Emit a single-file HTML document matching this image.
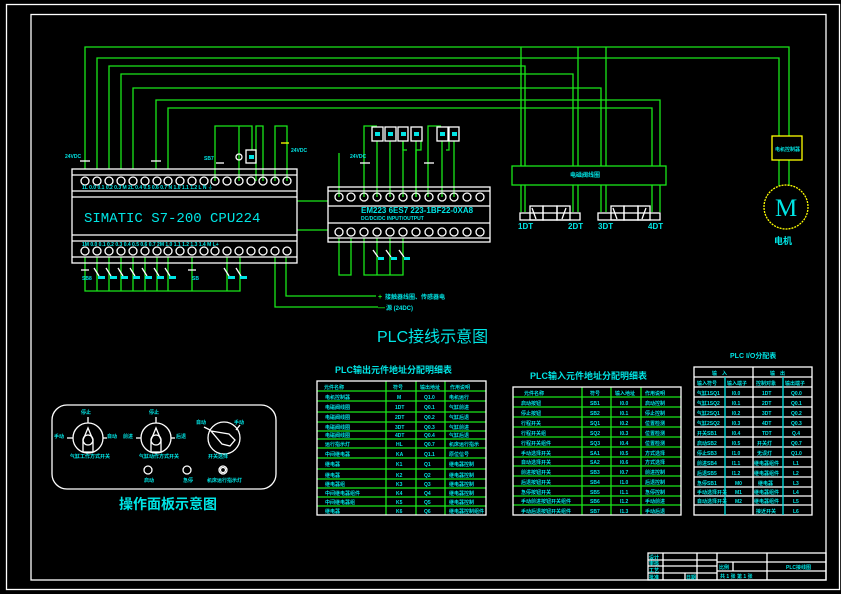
<!DOCTYPE html>
<html><head><meta charset="utf-8"><style>
html,body{margin:0;padding:0;background:#000;}
svg{display:block;}
text{font-family:"Liberation Sans","Noto Sans CJK SC",sans-serif;fill:#00e5e5;}
.w{stroke:#fff;fill:none;stroke-width:1.3}
.g{stroke:#19e619;fill:none;stroke-width:1.3}
.y{stroke:#ffff00;fill:none;stroke-width:1.3}
.t{font-size:5px;font-weight:bold}
.tb{font-size:6px;font-weight:bold}
</style></head><body>
<svg width="841" height="594" viewBox="0 0 841 594" xmlns="http://www.w3.org/2000/svg">
<rect x="0" y="0" width="841" height="594" fill="#000"/>
<!-- frames -->
<rect x="6.5" y="4.5" width="833" height="585" class="w"/>
<rect x="31" y="14.5" width="795" height="565.5" class="w"/>

<!-- top wiring -->
<g class="g">
<polyline points="85,169 85,47 789,47 789,136"/>
<polyline points="97,169 97,58 779,58 779,136"/>
<polyline points="109,169 109,66 525,66 525,166"/>
<polyline points="121,169 121,74 573,74 573,166"/>
<polyline points="133,169 133,88 601,88 601,166"/>
<polyline points="156,169 156,100 660,100 660,166"/>
<polyline points="168,169 168,108 652,108 652,166"/>
<line x1="521" y1="47" x2="521" y2="166"/>
<line x1="578" y1="47" x2="578" y2="166"/>
<line x1="606" y1="47" x2="606" y2="166"/>
<rect x="512" y="166" width="154" height="19"/>
<line x1="521" y1="185" x2="521" y2="212"/><line x1="525" y1="185" x2="525" y2="212"/>
<line x1="573" y1="185" x2="573" y2="212"/><line x1="578" y1="185" x2="578" y2="212"/>
<line x1="601" y1="185" x2="601" y2="212"/><line x1="606" y1="185" x2="606" y2="212"/>
<line x1="652" y1="185" x2="652" y2="212"/><line x1="660" y1="185" x2="660" y2="212"/>
<line x1="779" y1="160" x2="779" y2="186"/><line x1="789" y1="160" x2="789" y2="186"/>
<!-- CPU upper aux wiring -->
<polyline points="215,181 215,126 252,126 252,150"/>
<line x1="239" y1="126" x2="239" y2="181"/>
<polyline points="256,181 256,126 263,126 263,181"/>
<polyline points="275,181 275,126 287,126 287,181"/>
<!-- EM upper wiring -->
<polyline points="364,197 364,126 377,126"/>
<polyline points="416,197 416,150 421,150 421,141"/>
<polyline points="403,141 403,150 407,150"/>
<polyline points="428,197 428,126 441,126"/>
<polyline points="449,141 449,150 446,150"/>
<line x1="377" y1="141" x2="377" y2="197"/><line x1="390" y1="141" x2="390" y2="197"/>
<line x1="403" y1="141" x2="403" y2="197"/><line x1="416" y1="141" x2="416" y2="197"/>
<line x1="442" y1="141" x2="442" y2="197"/><line x1="454" y1="141" x2="454" y2="197"/>
<line x1="339" y1="153" x2="339" y2="197"/>
<!-- CPU-EM links -->
<line x1="297" y1="201" x2="328" y2="201"/><line x1="297" y1="230" x2="328" y2="230"/>
<!-- bottom CPU wiring -->
<polyline points="85,257 85,291 240,291 240,257"/>
<line x1="97" y1="257" x2="97" y2="291"/><line x1="109" y1="257" x2="109" y2="291"/>
<line x1="121" y1="257" x2="121" y2="291"/><line x1="133" y1="257" x2="133" y2="291"/>
<line x1="145" y1="257" x2="145" y2="291"/><line x1="157" y1="257" x2="157" y2="291"/>
<line x1="168" y1="257" x2="168" y2="291"/><line x1="192" y1="257" x2="192" y2="291"/>
<line x1="227" y1="257" x2="227" y2="291"/>
<polyline points="275,257 275,307 378,307"/>
<polyline points="286,257 286,296 376,296"/>
<!-- EM bottom wiring -->
<polyline points="339,238 339,275 351,275 351,238"/>
<polyline points="364,238 364,275 403,275 403,238"/>
<line x1="377" y1="238" x2="377" y2="275"/><line x1="390" y1="238" x2="390" y2="275"/>
</g>

<!-- CPU box -->
<g class="w">
<rect x="72" y="169" width="225" height="94"/>
<line x1="72" y1="175" x2="297" y2="175"/><line x1="72" y1="191" x2="297" y2="191"/>
<line x1="72" y1="197" x2="297" y2="197"/><line x1="72" y1="235" x2="297" y2="235"/>
<line x1="72" y1="241" x2="297" y2="241"/><line x1="72" y1="257" x2="297" y2="257"/>
</g>
<g class="w" stroke-width="1">
<circle cx="85" cy="181" r="4"/><circle cx="97" cy="181" r="4"/><circle cx="109" cy="181" r="4"/><circle cx="121" cy="181" r="4"/><circle cx="133" cy="181" r="4"/><circle cx="145" cy="181" r="4"/><circle cx="157" cy="181" r="4"/><circle cx="168" cy="181" r="4"/><circle cx="180" cy="181" r="4"/><circle cx="192" cy="181" r="4"/><circle cx="204" cy="181" r="4"/><circle cx="215" cy="181" r="4"/><circle cx="227" cy="181" r="4"/><circle cx="239" cy="181" r="4"/><circle cx="251" cy="181" r="4"/><circle cx="263" cy="181" r="4"/><circle cx="275" cy="181" r="4"/><circle cx="287" cy="181" r="4"/>
<circle cx="85" cy="251" r="4"/><circle cx="97" cy="251" r="4"/><circle cx="109" cy="251" r="4"/><circle cx="121" cy="251" r="4"/><circle cx="133" cy="251" r="4"/><circle cx="145" cy="251" r="4"/><circle cx="157" cy="251" r="4"/><circle cx="168" cy="251" r="4"/><circle cx="180" cy="251" r="4"/><circle cx="192" cy="251" r="4"/><circle cx="204" cy="251" r="4"/><circle cx="215" cy="251" r="4"/><circle cx="227" cy="251" r="4"/><circle cx="239" cy="251" r="4"/><circle cx="251" cy="251" r="4"/><circle cx="263" cy="251" r="4"/><circle cx="275" cy="251" r="4"/><circle cx="287" cy="251" r="4"/>
</g>
<text x="84" y="222" style="font-family:'Liberation Mono',monospace;font-size:14px">SIMATIC S7-200 CPU224</text>
<text x="82" y="189" class="t">1L  0.0 0.1 0.2 0.3 M  2L 0.4 0.5 0.6 0.7 N  1.0 1.1 1.2 L  N  ⏚</text>
<text x="82" y="246" class="t">1M 0.0 0.1 0.2 0.3 0.4 0.5 0.6 0.7 2M 1.0 1.1 1.2 1.3 1.4 M  L+</text>

<!-- EM box -->
<g class="w">
<rect x="328" y="187" width="162" height="55"/>
<line x1="328" y1="191" x2="490" y2="191"/><line x1="328" y1="206" x2="490" y2="206"/>
<line x1="328" y1="223" x2="490" y2="223"/><line x1="328" y1="238" x2="490" y2="238"/>
</g>
<g class="w" stroke-width="1">
<circle cx="339" cy="197" r="4"/><circle cx="351" cy="197" r="4"/><circle cx="364" cy="197" r="4"/><circle cx="377" cy="197" r="4"/><circle cx="390" cy="197" r="4"/><circle cx="403" cy="197" r="4"/><circle cx="416" cy="197" r="4"/><circle cx="429" cy="197" r="4"/><circle cx="442" cy="197" r="4"/><circle cx="454" cy="197" r="4"/><circle cx="467" cy="197" r="4"/><circle cx="480" cy="197" r="4"/>
<circle cx="339" cy="232" r="4"/><circle cx="351" cy="232" r="4"/><circle cx="364" cy="232" r="4"/><circle cx="377" cy="232" r="4"/><circle cx="390" cy="232" r="4"/><circle cx="403" cy="232" r="4"/><circle cx="416" cy="232" r="4"/><circle cx="429" cy="232" r="4"/><circle cx="442" cy="232" r="4"/><circle cx="454" cy="232" r="4"/><circle cx="467" cy="232" r="4"/><circle cx="480" cy="232" r="4"/>
</g>
<text x="361" y="213" style="font-size:8px;font-weight:bold">EM223 6ES7 223-1BF22-0XA8</text>
<text x="361" y="220" class="t">DC/DC/DC INPUT/OUTPUT</text>

<!-- relay boxes -->
<g class="w"><rect x="372" y="127" width="11" height="14"/><rect x="385" y="127" width="11" height="14"/><rect x="398" y="127" width="10" height="14"/><rect x="411" y="127" width="11" height="14"/><rect x="437" y="127" width="11" height="14"/><rect x="449" y="127" width="10" height="14"/>
<rect x="246" y="150" width="10" height="13"/><circle cx="239" cy="157" r="3"/></g>
<g fill="#00e5e5"><rect x="375" y="132" width="5" height="4"/><rect x="388" y="132" width="5" height="4"/><rect x="401" y="132" width="5" height="4"/><rect x="414" y="132" width="5" height="4"/><rect x="440" y="132" width="5" height="4"/><rect x="452" y="132" width="5" height="4"/><rect x="249" y="155" width="5" height="4"/></g>
<text x="65" y="158" class="t">24VDC</text><text x="291" y="152" class="t">24VDC</text><text x="350" y="158" class="t">24VDC</text><text x="204" y="160" class="t">SB7</text>
<g class="w" stroke-width="1"><line x1="80" y1="161" x2="90" y2="161"/><line x1="151" y1="161" x2="161" y2="161"/><line x1="360" y1="163" x2="370" y2="163"/><line x1="424" y1="163" x2="434" y2="163"/><line x1="216" y1="163" x2="224" y2="163"/></g>
<line x1="281" y1="143" x2="289" y2="143" class="y"/>

<!-- bottom switches -->
<g class="w" stroke-width="1">
<line x1="94" y1="268" x2="99" y2="276"/><line x1="106" y1="268" x2="111" y2="276"/><line x1="118" y1="268" x2="123" y2="276"/><line x1="130" y1="268" x2="135" y2="276"/><line x1="142" y1="268" x2="147" y2="276"/><line x1="154" y1="268" x2="159" y2="276"/><line x1="165" y1="268" x2="170" y2="276"/><line x1="224" y1="268" x2="229" y2="276"/><line x1="236" y1="268" x2="241" y2="276"/>
<line x1="81" y1="270" x2="89" y2="270"/><line x1="188" y1="270" x2="196" y2="270"/>
<line x1="373" y1="250" x2="378" y2="257"/><line x1="386" y1="250" x2="391" y2="257"/><line x1="399" y1="250" x2="404" y2="257"/>
</g>
<g fill="#00e5e5"><rect x="98" y="276" width="7" height="3"/><rect x="110" y="276" width="7" height="3"/><rect x="121" y="276" width="7" height="3"/><rect x="133" y="276" width="7" height="3"/><rect x="145" y="276" width="7" height="3"/><rect x="157" y="276" width="7" height="3"/><rect x="169" y="276" width="7" height="3"/><rect x="228" y="276" width="7" height="3"/><rect x="240" y="276" width="7" height="3"/><rect x="378" y="257" width="6" height="3"/><rect x="391" y="257" width="6" height="3"/><rect x="404" y="257" width="6" height="3"/></g>
<text x="82" y="280" class="t">SB8</text><text x="192" y="280" class="t">SB</text>
<text x="378" y="299" style="font-size:7px;font-weight:bold;fill:#19e619">+</text><text x="385" y="299" style="font-size:6px;font-weight:bold">接触器线圈、传感器电</text>
<text x="378" y="310" style="font-size:7px;font-weight:bold;fill:#19e619">—</text><text x="386" y="310" style="font-size:6px;font-weight:bold">源 (24DC)</text>

<!-- valves -->
<text x="570" y="177" class="tb">电磁阀线圈</text>
<g class="w" stroke-width="1">
<rect x="520" y="213" width="60" height="7"/><rect x="530" y="206" width="13" height="14"/><rect x="543" y="206" width="14" height="14"/><rect x="557" y="206" width="13" height="14"/>
<line x1="532" y1="208" x2="536" y2="219"/><line x1="562" y1="219" x2="566" y2="208"/>
<rect x="598" y="213" width="62" height="7"/><rect x="611" y="206" width="13" height="14"/><rect x="624" y="206" width="14" height="14"/><rect x="638" y="206" width="12" height="14"/>
<line x1="613" y1="208" x2="617" y2="219"/><line x1="642" y1="219" x2="646" y2="208"/>
</g>
<text x="518" y="229" style="font-size:8px;font-weight:bold">1DT</text><text x="568" y="229" style="font-size:8px;font-weight:bold">2DT</text>
<text x="598" y="229" style="font-size:8px;font-weight:bold">3DT</text><text x="648" y="229" style="font-size:8px;font-weight:bold">4DT</text>
<!-- motor -->
<rect x="772" y="136" width="30" height="24" class="y"/>
<text x="775" y="151" class="t">电机控制器</text>
<circle cx="786" cy="207" r="22" class="y" stroke-dasharray="2 1"/>
<text x="775" y="216" style="font-family:'Liberation Serif',serif;font-size:25px">M</text>
<text x="774" y="244" style="font-size:9px;font-weight:bold">电机</text>

<text x="377" y="342" style="font-size:16px">PLC接线示意图</text>

<!-- panel -->
<rect x="52" y="405" width="224" height="84" rx="15" class="w"/>
<g class="w" stroke-width="1">
<circle cx="88" cy="438" r="15"/><path d="M83,452 L83,440 L88,428 L93,440 L93,452 Z"/><circle cx="88" cy="440" r="5"/><line x1="88" y1="423" x2="88" y2="417"/><line x1="67" y1="438" x2="73" y2="438"/><line x1="103" y1="438" x2="107" y2="438"/>
<circle cx="156" cy="438" r="15"/><path d="M151,452 L151,440 L156,428 L161,440 L161,452 Z"/><circle cx="156" cy="440" r="5"/><line x1="156" y1="423" x2="156" y2="417"/><line x1="136" y1="438" x2="141" y2="438"/><line x1="171" y1="438" x2="175" y2="438"/>
<circle cx="224" cy="438" r="16"/><path d="M211,431 L229,434 L235,440 L230,446 L222,444 Z"/><line x1="210" y1="430" x2="204" y2="427"/><line x1="236" y1="430" x2="240" y2="425"/>
<circle cx="148" cy="470" r="4"/><circle cx="187" cy="470" r="4"/><circle cx="223" cy="470" r="4"/><circle cx="223" cy="470" r="2.5"/>
</g>
<g class="t"><text x="81" y="414">停止</text><text x="54" y="438">手动</text><text x="107" y="438">自动</text><text x="149" y="414">停止</text><text x="123" y="438">前进</text><text x="176" y="438">后退</text><text x="196" y="424">自动</text><text x="234" y="424">手动</text>
<text x="70" y="458">气缸工作方式开关</text><text x="139" y="458">气缸动作方式开关</text><text x="208" y="458">开关选择</text>
<text x="144" y="482">启动</text><text x="183" y="482">急停</text><text x="207" y="482">机床运行指示灯</text></g>
<text x="119" y="509" style="font-size:14px;font-weight:bold">操作面板示意图</text>

<!-- tables titles -->
<text x="335" y="373" style="font-size:9px;font-weight:bold">PLC输出元件地址分配明细表</text>
<text x="530" y="379" style="font-size:9px;font-weight:bold">PLC输入元件地址分配明细表</text>
<text x="730" y="358" style="font-size:7px;font-weight:bold">PLC I/O分配表</text>

<!-- table 1 -->
<g class="g">
<line x1="317" y1="391" x2="486" y2="391"/><line x1="317" y1="401" x2="486" y2="401"/><line x1="317" y1="412" x2="486" y2="412"/><line x1="317" y1="422" x2="486" y2="422"/><line x1="317" y1="431" x2="486" y2="431"/><line x1="317" y1="439" x2="486" y2="439"/><line x1="317" y1="448" x2="486" y2="448"/><line x1="317" y1="458" x2="486" y2="458"/><line x1="317" y1="469" x2="486" y2="469"/><line x1="317" y1="479" x2="486" y2="479"/><line x1="317" y1="488" x2="486" y2="488"/><line x1="317" y1="497" x2="486" y2="497"/><line x1="317" y1="506" x2="486" y2="506"/>
<line x1="386" y1="381" x2="386" y2="515"/><line x1="416" y1="381" x2="416" y2="515"/><line x1="445" y1="381" x2="445" y2="515"/>
</g>
<rect x="317" y="381" width="169" height="134" class="w"/>
<g class="t">
<text x="324" y="389">元件名称</text><text x="393" y="389">符号</text><text x="420" y="389">输出地址</text><text x="450" y="389">作用说明</text>
<text x="325" y="399">电机控制器</text><text x="397" y="399">M</text><text x="424" y="399">Q1.0</text><text x="449" y="399">电机运行</text>
<text x="325" y="409">电磁阀线圈</text><text x="395" y="409">1DT</text><text x="424" y="409">Q0.1</text><text x="449" y="409">气缸前进</text>
<text x="325" y="419">电磁阀线圈</text><text x="395" y="419">2DT</text><text x="424" y="419">Q0.2</text><text x="449" y="419">气缸后退</text>
<text x="325" y="429">电磁阀线圈</text><text x="395" y="429">3DT</text><text x="424" y="429">Q0.3</text><text x="449" y="429">气缸前进</text>
<text x="325" y="437">电磁阀线圈</text><text x="395" y="437">4DT</text><text x="424" y="437">Q0.4</text><text x="449" y="437">气缸后退</text>
<text x="325" y="446">运行指示灯</text><text x="396" y="446">HL</text><text x="424" y="446">Q0.7</text><text x="449" y="446">机床运行指示</text>
<text x="325" y="456">中间继电器</text><text x="396" y="456">KA</text><text x="424" y="456">Q1.1</text><text x="449" y="456">原位信号</text>
<text x="325" y="466">继电器</text><text x="396" y="466">K1</text><text x="424" y="466">Q1</text><text x="449" y="466">继电器控制</text>
<text x="325" y="477">继电器</text><text x="396" y="477">K2</text><text x="424" y="477">Q2</text><text x="449" y="477">继电器控制</text>
<text x="325" y="486">继电器组</text><text x="396" y="486">K3</text><text x="424" y="486">Q3</text><text x="449" y="486">继电器控制</text>
<text x="325" y="495">中间继电器组件</text><text x="396" y="495">K4</text><text x="424" y="495">Q4</text><text x="449" y="495">继电器控制</text>
<text x="325" y="504">中间继电器组</text><text x="396" y="504">K5</text><text x="424" y="504">Q5</text><text x="449" y="504">继电器控制</text>
<text x="325" y="513">继电器</text><text x="396" y="513">K6</text><text x="424" y="513">Q6</text><text x="449" y="513">继电器控制组件</text>
</g>

<!-- table 2 -->
<g class="g">
<line x1="513" y1="397" x2="681" y2="397"/><line x1="513" y1="407" x2="681" y2="407"/><line x1="513" y1="417" x2="681" y2="417"/><line x1="513" y1="427" x2="681" y2="427"/><line x1="513" y1="437" x2="681" y2="437"/><line x1="513" y1="447" x2="681" y2="447"/><line x1="513" y1="457" x2="681" y2="457"/><line x1="513" y1="466" x2="681" y2="466"/><line x1="513" y1="476" x2="681" y2="476"/><line x1="513" y1="486" x2="681" y2="486"/><line x1="513" y1="496" x2="681" y2="496"/><line x1="513" y1="505" x2="681" y2="505"/>
<line x1="582" y1="387" x2="582" y2="515"/><line x1="611" y1="387" x2="611" y2="515"/><line x1="641" y1="387" x2="641" y2="515"/>
</g>
<rect x="513" y="387" width="168" height="128" class="w"/>
<g class="t">
<text x="524" y="395">元件名称</text><text x="590" y="395">符号</text><text x="615" y="395">输入地址</text><text x="645" y="395">作用说明</text>
<text x="521" y="405">启动按钮</text><text x="590" y="405">SB1</text><text x="620" y="405">I0.0</text><text x="645" y="405">启动控制</text>
<text x="521" y="415">停止按钮</text><text x="590" y="415">SB2</text><text x="620" y="415">I0.1</text><text x="645" y="415">停止控制</text>
<text x="521" y="425">行程开关</text><text x="590" y="425">SQ1</text><text x="620" y="425">I0.2</text><text x="645" y="425">位置检测</text>
<text x="521" y="435">行程开关组</text><text x="590" y="435">SQ2</text><text x="620" y="435">I0.3</text><text x="645" y="435">位置检测</text>
<text x="521" y="445">行程开关组件</text><text x="590" y="445">SQ3</text><text x="620" y="445">I0.4</text><text x="645" y="445">位置检测</text>
<text x="521" y="455">手动选择开关</text><text x="590" y="455">SA1</text><text x="620" y="455">I0.5</text><text x="645" y="455">方式选择</text>
<text x="521" y="464">自动选择开关</text><text x="590" y="464">SA2</text><text x="620" y="464">I0.6</text><text x="645" y="464">方式选择</text>
<text x="521" y="474">前进按钮开关</text><text x="590" y="474">SB3</text><text x="620" y="474">I0.7</text><text x="645" y="474">前进控制</text>
<text x="521" y="484">后退按钮开关</text><text x="590" y="484">SB4</text><text x="620" y="484">I1.0</text><text x="645" y="484">后退控制</text>
<text x="521" y="494">急停按钮开关</text><text x="590" y="494">SB5</text><text x="620" y="494">I1.1</text><text x="645" y="494">急停控制</text>
<text x="521" y="503">手动前进按钮开关组件</text><text x="590" y="503">SB6</text><text x="620" y="503">I1.2</text><text x="645" y="503">手动前进</text>
<text x="521" y="513">手动后退按钮开关组件</text><text x="590" y="513">SB7</text><text x="620" y="513">I1.3</text><text x="645" y="513">手动后退</text>
</g>

<!-- table 3 -->
<g class="w" stroke-width="1">
<rect x="694" y="367" width="118" height="148" stroke-width="1.3"/>
<line x1="694" y1="377" x2="812" y2="377"/><line x1="694" y1="387" x2="812" y2="387"/><line x1="694" y1="397" x2="812" y2="397"/><line x1="694" y1="407" x2="812" y2="407"/><line x1="694" y1="417" x2="812" y2="417"/><line x1="694" y1="427" x2="812" y2="427"/><line x1="694" y1="437" x2="812" y2="437"/><line x1="694" y1="447" x2="812" y2="447"/><line x1="694" y1="457" x2="812" y2="457"/><line x1="694" y1="467" x2="812" y2="467"/><line x1="694" y1="477" x2="812" y2="477"/><line x1="694" y1="487" x2="812" y2="487"/><line x1="694" y1="496" x2="812" y2="496"/><line x1="694" y1="505" x2="812" y2="505"/>
<line x1="753" y1="367" x2="753" y2="515"/>
</g>
<g class="g" stroke="#00e5e5"><line x1="725" y1="377" x2="725" y2="515" stroke="#00e5e5"/><line x1="783" y1="377" x2="783" y2="515" stroke="#00e5e5"/></g>
<g class="t">
<text x="712" y="375">输　入</text><text x="770" y="375">输　出</text>
<text x="697" y="385">输入符号</text><text x="727" y="385">输入端子</text><text x="756" y="385">控制对象</text><text x="785" y="385">输出端子</text>
<text x="697" y="395">气缸1SQ1</text><text x="732" y="395">I0.0</text><text x="762" y="395">1DT</text><text x="791" y="395">Q0.0</text>
<text x="697" y="405">气缸1SQ2</text><text x="732" y="405">I0.1</text><text x="762" y="405">2DT</text><text x="791" y="405">Q0.1</text>
<text x="697" y="415">气缸2SQ1</text><text x="732" y="415">I0.2</text><text x="762" y="415">3DT</text><text x="791" y="415">Q0.2</text>
<text x="697" y="425">气缸2SQ2</text><text x="732" y="425">I0.3</text><text x="762" y="425">4DT</text><text x="791" y="425">Q0.3</text>
<text x="697" y="435">开关SB1</text><text x="732" y="435">I0.4</text><text x="762" y="435">TDT</text><text x="792" y="435">Q.4</text>
<text x="697" y="445">启动SB2</text><text x="732" y="445">I0.5</text><text x="757" y="445">开关灯</text><text x="791" y="445">Q0.7</text>
<text x="697" y="455">停止SB3</text><text x="732" y="455">I1.0</text><text x="757" y="455">无误灯</text><text x="791" y="455">Q1.0</text>
<text x="697" y="465">前进SB4</text><text x="732" y="465">I1.1</text><text x="754" y="465">继电器组件</text><text x="793" y="465">L1</text>
<text x="697" y="475">后退SB5</text><text x="732" y="475">I1.2</text><text x="754" y="475">继电器组件</text><text x="793" y="475">L2</text>
<text x="697" y="485">急停SB1</text><text x="735" y="485">M0</text><text x="758" y="485">继电器</text><text x="793" y="485">L3</text>
<text x="697" y="494">手动选择开关</text><text x="735" y="494">M1</text><text x="754" y="494">继电器组件</text><text x="793" y="494">L4</text>
<text x="697" y="503">自动选择开关</text><text x="735" y="503">M2</text><text x="754" y="503">继电器组件</text><text x="793" y="503">L5</text>
<text x="756" y="513">接近开关</text><text x="793" y="513">L6</text>
</g>

<!-- title block -->
<g class="w" stroke-width="1">
<rect x="648" y="553" width="178" height="27" stroke-width="1.3"/>
<line x1="648" y1="560" x2="717" y2="560"/><line x1="648" y1="566" x2="717" y2="566"/><line x1="648" y1="573" x2="717" y2="573"/>
<line x1="717" y1="562" x2="826" y2="562"/><line x1="717" y1="571" x2="826" y2="571"/>
<line x1="663" y1="553" x2="663" y2="580"/><line x1="697" y1="553" x2="697" y2="580"/><line x1="717" y1="553" x2="717" y2="580"/><line x1="767" y1="553" x2="767" y2="580"/><line x1="733" y1="562" x2="733" y2="571"/><line x1="685" y1="573" x2="685" y2="580"/>
</g>
<g class="t" style="fill:#fff"><text x="649" y="559">设计</text><text x="649" y="565">审核</text><text x="649" y="572">工艺</text><text x="649" y="579">批准</text><text x="686" y="579">日期</text><text x="719" y="569">比例</text><text x="720" y="578">共 1 张 第 1 张</text><text x="786" y="569">PLC接线图</text></g>
</svg>
</body></html>
